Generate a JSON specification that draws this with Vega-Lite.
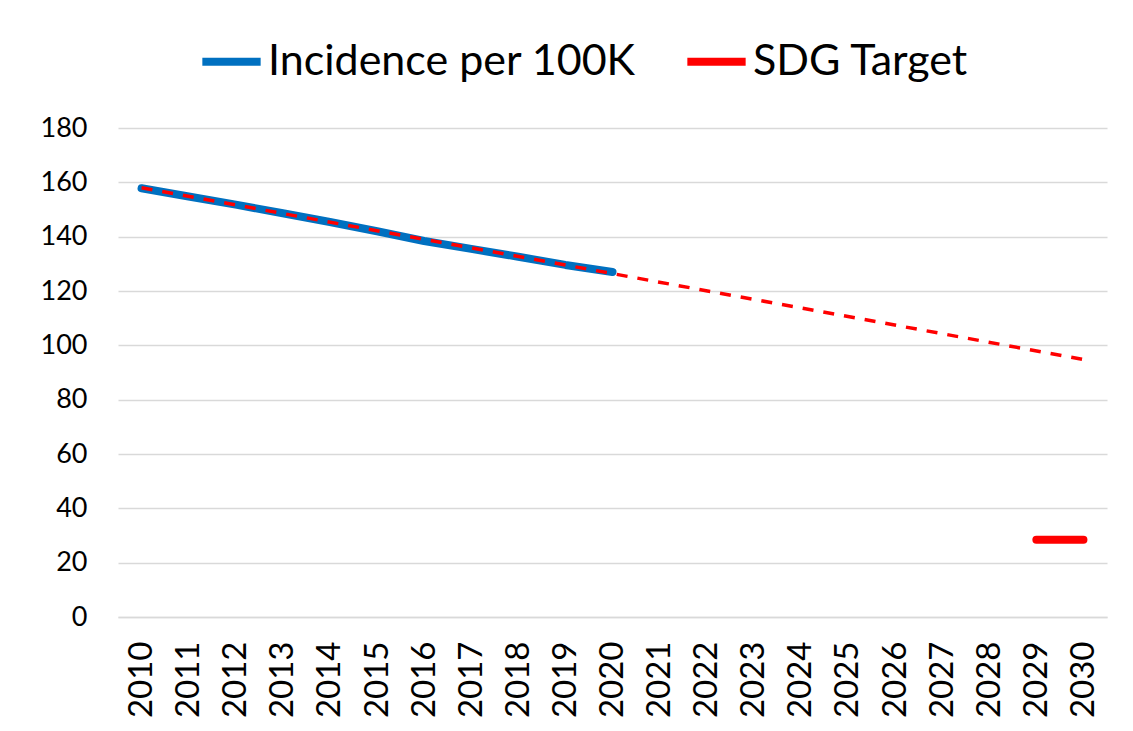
{
  "$schema": "https://vega.github.io/schema/vega-lite/v6.json",
  "width": 989,
  "height": 489,
  "autosize": {"type": "none"},
  "padding": {"left": 118, "top": 128, "right": 26, "bottom": 114},
  "background": "white",
  "config": {
    "font": "Lato",
    "view": {"stroke": null},
    "axis": {"labelFont": "Lato", "labelColor": "#000000", "ticks": false, "title": null},
    "legend": {"labelFont": "Lato"}
  },
  "layer": [
    {
      "data": {"values": [
        {"year": 2010, "value": 157.8, "series": "Incidence per 100K"},
        {"year": 2011, "value": 154.8, "series": "Incidence per 100K"},
        {"year": 2012, "value": 151.8, "series": "Incidence per 100K"},
        {"year": 2013, "value": 148.6, "series": "Incidence per 100K"},
        {"year": 2014, "value": 145.4, "series": "Incidence per 100K"},
        {"year": 2015, "value": 142.0, "series": "Incidence per 100K"},
        {"year": 2016, "value": 138.4, "series": "Incidence per 100K"},
        {"year": 2017, "value": 135.5, "series": "Incidence per 100K"},
        {"year": 2018, "value": 132.6, "series": "Incidence per 100K"},
        {"year": 2019, "value": 129.6, "series": "Incidence per 100K"},
        {"year": 2020, "value": 127.0, "series": "Incidence per 100K"},
        {"year": 2029, "value": 28.4, "series": "SDG Target"},
        {"year": 2030, "value": 28.4, "series": "SDG Target"}
      ]},
      "mark": {"type": "line", "strokeWidth": 8, "strokeCap": "round", "strokeJoin": "round"},
      "encoding": {
        "x": {
          "field": "year", "type": "ordinal",
          "scale": {"type": "point", "padding": 0.5, "domain": [2010,2011,2012,2013,2014,2015,2016,2017,2018,2019,2020,2021,2022,2023,2024,2025,2026,2027,2028,2029,2030]},
          "axis": {"labelAngle": -90, "labelFontSize": 33, "labelPadding": 24, "domainColor": "#d9d9d9", "domainWidth": 1.5, "grid": false}
        },
        "y": {
          "field": "value", "type": "quantitative",
          "scale": {"domain": [0, 180], "nice": false},
          "axis": {"values": [0,20,40,60,80,100,120,140,160,180], "labelFontSize": 27, "labelPadding": 31, "domain": false, "gridColor": "#d9d9d9", "gridWidth": 1.5}
        },
        "color": {
          "field": "series", "type": "nominal",
          "scale": {"domain": ["Incidence per 100K", "SDG Target"], "range": ["#0070C0", "#FF0000"]},
          "legend": {
            "title": null, "orient": "none", "direction": "horizontal",
            "legendX": 80, "legendY": -100,
            "symbolType": "stroke", "symbolSize": 3400, "symbolStrokeWidth": 8,
            "labelFontSize": 43, "labelColor": "#000000", "labelOffset": 3,
            "columnPadding": 35, "padding": 0, "symbolOffset": 0,
            "labelLimit": 600
          }
        }
      }
    },
    {
      "data": {"values": [
        {"year": 2010, "value": 158.0},
        {"year": 2030, "value": 94.8}
      ]},
      "mark": {"type": "line", "color": "#FF0000", "strokeWidth": 3.5, "strokeDash": [11, 10]},
      "encoding": {
        "x": {"field": "year", "type": "ordinal"},
        "y": {"field": "value", "type": "quantitative"}
      }
    }
  ]
}
